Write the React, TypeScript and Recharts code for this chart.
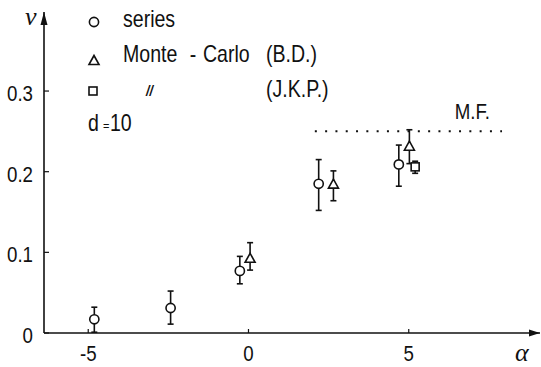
import React from "react";
import {
  ScatterChart,
  Scatter,
  XAxis,
  YAxis,
  ErrorBar,
  ReferenceLine,
  ReferenceDot,
} from "recharts";

// ── data ────────────────────────────────────────────────────────────────────
const seriesAlpha = [-4.81, -2.43, -0.27, 2.19, 4.69];
const seriesNu = [0.017, 0.031, 0.077, 0.185, 0.209];
const seriesErrLow = [0.016, 0.02, 0.016, 0.033, 0.027];
const seriesErrHigh = [0.015, 0.021, 0.018, 0.03, 0.024];

const mcBdAlpha = [0.05, 2.65, 5.02];
const mcBdNu = [0.092, 0.184, 0.231];
const mcBdErrLow = [0.014, 0.02, 0.021];
const mcBdErrHigh = [0.02, 0.017, 0.021];

const mcJkpAlpha = [5.2];
const mcJkpNu = [0.206];
const mcJkpErrLow = [0.008];
const mcJkpErrHigh = [0.007];

const mfLevel = 0.25;
const mfRange = [2.07, 7.91];

const xTicks = [-5, 0, 5];
const yTicks = [0, 0.1, 0.2, 0.3];
const xDomain: [number, number] = [-6.38, 9.095];
const yDomain: [number, number] = [0, 0.398];

const SANS = "'Liberation Sans', Arial, sans-serif";
const SERIF = "'Liberation Serif', 'DejaVu Serif', serif";
const INK = "#111";
const SQUEEZE = 0.85; // the figure uses a condensed face

function toPoints(alpha: number[], nu: number[], low: number[], high: number[]) {
  return alpha.map((a, i) => ({ alpha: a, nu: nu[i], err: [low[i], high[i]] }));
}

const seriesData = toPoints(seriesAlpha, seriesNu, seriesErrLow, seriesErrHigh);
const mcBdData = toPoints(mcBdAlpha, mcBdNu, mcBdErrLow, mcBdErrHigh);
const mcJkpData = toPoints(mcJkpAlpha, mcJkpNu, mcJkpErrLow, mcJkpErrHigh);

// condensed text: Liberation Sans squeezed horizontally
function NarrowText({ x, y, anchor = "start", size = 23, italic = false, bold = false, children }: any) {
  return (
    <text
      transform={`translate(${x},${y}) scale(${SQUEEZE},1)`}
      textAnchor={anchor}
      fontFamily={SANS}
      fontSize={size}
      fontStyle={italic ? "italic" : "normal"}
      fontWeight={bold ? "bold" : "normal"}
      fill={INK}
    >
      {children}
    </text>
  );
}

// ── marker shapes ───────────────────────────────────────────────────────────
const CircleMark = ({ cx, cy }: any) => (
  <circle cx={cx} cy={cy} r={4.6} fill="#fff" stroke={INK} strokeWidth={1.6} />
);

const TriangleMark = ({ cx, cy }: any) => (
  <polygon
    points={`${cx},${cy - 5.5} ${cx - 5},${cy + 3.5} ${cx + 5},${cy + 3.5}`}
    fill="#fff"
    stroke={INK}
    strokeWidth={1.6}
  />
);

const SquareMark = ({ cx, cy }: any) => (
  <rect x={cx - 4} y={cy - 4} width={8} height={8} fill="#fff" stroke={INK} strokeWidth={1.6} />
);

// ── axes bits ───────────────────────────────────────────────────────────────
const YTick = ({ x, y, payload }: any) => (
  <g>
    <line x1={x} x2={x + 5} y1={y} y2={y} stroke={INK} strokeWidth={1.2} />
    <NarrowText x={x - 11} y={y + 10} anchor="end" size={22}>
      {String(payload.value)}
    </NarrowText>
  </g>
);

const XTick = ({ x, y, payload }: any) => (
  <g>
    <line x1={x} x2={x} y1={y} y2={y - 4} stroke={INK} strokeWidth={1.2} />
    <NarrowText x={x} y={y + 28} anchor="middle" size={22}>
      {payload.value < 0 ? `-${Math.abs(payload.value)}` : String(payload.value)}
    </NarrowText>
  </g>
);

const ArrowRight = ({ cx, cy }: any) => (
  <polygon points={`${cx},${cy} ${cx - 11},${cy - 3.5} ${cx - 11},${cy + 3.5}`} fill={INK} />
);

const ArrowUp = ({ cx, cy }: any) => (
  <polygon points={`${cx},${cy} ${cx - 3.5},${cy + 13} ${cx + 3.5},${cy + 13}`} fill={INK} />
);

const NuLabel = ({ viewBox }: any) => (
  <text x={viewBox.x + 25} y={viewBox.y + 13} fontFamily={SERIF} fontStyle="italic" fontSize={26} fill={INK}>
    ν
  </text>
);

const AlphaLabel = ({ viewBox }: any) => (
  <text
    x={viewBox.x + viewBox.width - 25}
    y={viewBox.y + 28}
    fontFamily={SERIF}
    fontStyle="italic"
    fontSize={26}
    fill={INK}
  >
    α
  </text>
);

const MfLabel = ({ viewBox }: any) => (
  <NarrowText x={viewBox.x + viewBox.width - 12} y={viewBox.y - 12} anchor="end" size={22}>
    M.F.
  </NarrowText>
);

// legend block in the upper left of the frame
function LegendBlock() {
  return (
    <svg width={541} height={150} style={{ position: "absolute", left: 0, top: 0, pointerEvents: "none" }}>
      <CircleMark cx={94} cy={22} />
      <NarrowText x={123} y={27}>series</NarrowText>

      <TriangleMark cx={94} cy={61} />
      <NarrowText x={123} y={62}>Monte</NarrowText>
      <NarrowText x={193} y={62} anchor="middle">-</NarrowText>
      <NarrowText x={203} y={62}>Carlo</NarrowText>
      <NarrowText x={266} y={62}>(B.D.)</NarrowText>

      <SquareMark cx={93} cy={91} />
      <NarrowText x={146} y={96} size={15} italic bold>//</NarrowText>
      <NarrowText x={266} y={97}>(J.K.P.)</NarrowText>

      <NarrowText x={88} y={131}>d</NarrowText>
      <NarrowText x={103} y={130} size={13}>=</NarrowText>
      <NarrowText x={110} y={131}>10</NarrowText>
    </svg>
  );
}

export default function App() {
  return (
    <div style={{ position: "absolute", left: 0, top: 0, width: 541, height: 367, background: "#fff" }}>
      <ScatterChart width={541} height={367} margin={{ top: 12, right: 1, bottom: 0, left: 0 }}>
        <XAxis
          type="number"
          dataKey="alpha"
          domain={xDomain}
          ticks={xTicks}
          allowDataOverflow
          height={34}
          tickSize={0}
          tickMargin={0}
          tickLine={false}
          tick={<XTick />}
          axisLine={{ stroke: INK, strokeWidth: 1.6 }}
          label={{ content: <AlphaLabel /> }}
        />
        <YAxis
          type="number"
          dataKey="nu"
          domain={yDomain}
          ticks={yTicks}
          allowDataOverflow
          width={44}
          tickSize={0}
          tickMargin={0}
          tickLine={false}
          tick={<YTick />}
          axisLine={{ stroke: INK, strokeWidth: 1.6 }}
          label={{ content: <NuLabel /> }}
        />

        <ReferenceLine
          segment={[
            { x: mfRange[0], y: mfLevel },
            { x: mfRange[1], y: mfLevel },
          ]}
          stroke={INK}
          strokeWidth={2}
          strokeDasharray="2 8.3"
          label={<MfLabel />}
        />

        <Scatter name="series" data={seriesData} shape={<CircleMark />} isAnimationActive={false}>
          <ErrorBar dataKey="err" direction="y" width={3} stroke={INK} strokeWidth={1.6} isAnimationActive={false} />
        </Scatter>
        <Scatter name="Monte-Carlo (B.D.)" data={mcBdData} shape={<TriangleMark />} isAnimationActive={false}>
          <ErrorBar dataKey="err" direction="y" width={3} stroke={INK} strokeWidth={1.6} isAnimationActive={false} />
        </Scatter>
        <Scatter name="Monte-Carlo (J.K.P.)" data={mcJkpData} shape={<SquareMark />} isAnimationActive={false}>
          <ErrorBar dataKey="err" direction="y" width={3} stroke={INK} strokeWidth={1.6} isAnimationActive={false} />
        </Scatter>

        <ReferenceDot x={xDomain[1]} y={0} ifOverflow="visible" shape={<ArrowRight />} />
        <ReferenceDot x={xDomain[0]} y={yDomain[1]} ifOverflow="visible" shape={<ArrowUp />} />
      </ScatterChart>
      <LegendBlock />
    </div>
  );
}
